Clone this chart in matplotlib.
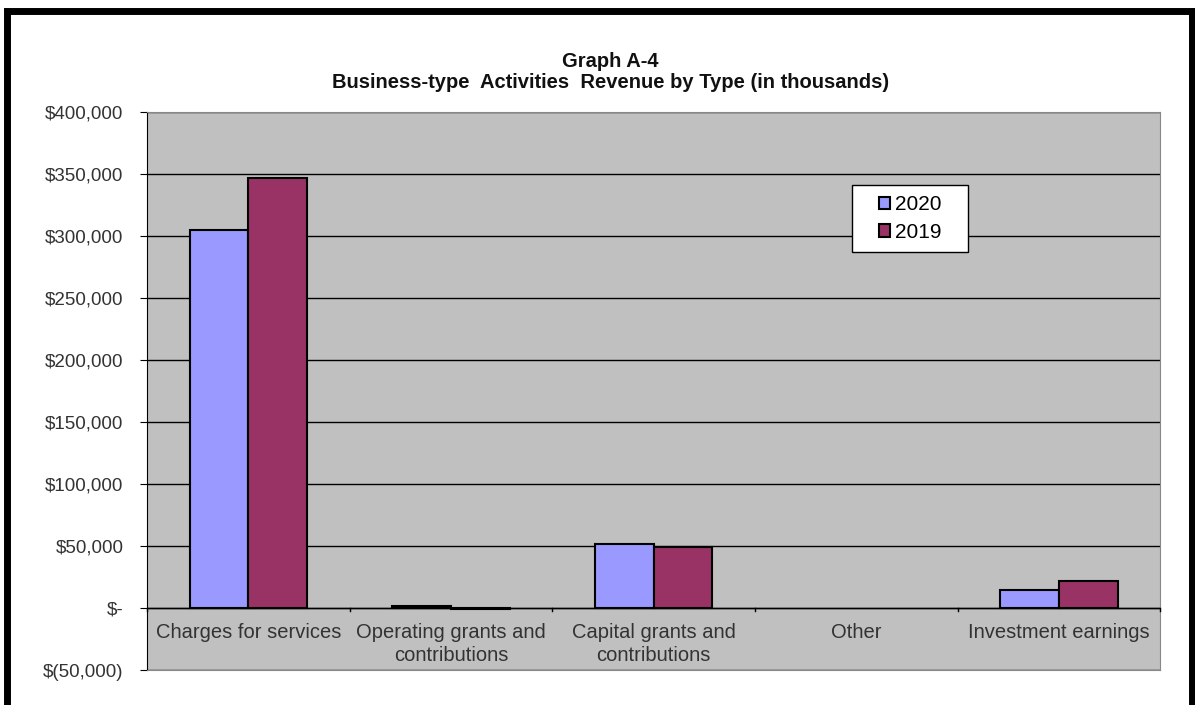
import numpy as np
import matplotlib.pyplot as plt
from matplotlib.patches import Rectangle

plt.rcParams['font.family'] = ['Liberation Sans', 'DejaVu Sans']

categories = ["Charges for services", "Operating grants and\ncontributions",
              "Capital grants and\ncontributions", "Other", "Investment earnings"]
rev_2020 = [305000, 2000, 51500, 0, 14500]
rev_2019 = [346500, -800, 49500, 0, 22000]
yticks = [-50000, 0, 50000, 100000, 150000, 200000, 250000, 300000, 350000, 400000]
ytick_labels = ["$(50,000)", "$-", "$50,000", "$100,000", "$150,000", "$200,000",
                "$250,000", "$300,000", "$350,000", "$400,000"]

fig = plt.figure(figsize=(11.95, 7.05), dpi=100)
ax = fig.add_axes([0.123, 0.0496, 0.848, 0.7914])
ax.set_facecolor("#C0C0C0")

x = np.arange(len(categories))
w = 0.29
# zero-height bars get no outline so the axis line stays thin
lw20 = [1.5 if v != 0 else 0 for v in rev_2020]
lw19 = [1.5 if v != 0 else 0 for v in rev_2019]
ax.bar(x - w / 2, rev_2020, w, color="#9999FF", edgecolor="black", linewidth=lw20,
       label="2020", zorder=3)
ax.bar(x + w / 2, rev_2019, w, color="#993366", edgecolor="black", linewidth=lw19,
       label="2019", zorder=3)

ax.set_xlim(-0.5, len(categories) - 0.5)
ax.set_ylim(-50000, 400000)
ax.set_yticks(yticks)
ax.set_yticklabels(ytick_labels, fontsize=13.5, color="#333333")
ax.yaxis.grid(True, color="black", linewidth=1)
ax.set_axisbelow(True)
ax.tick_params(axis="y", length=5, pad=12)

# category axis sits on zero line
ax.set_xticks([])
ax.axhline(0, color="black", linewidth=1, zorder=4)
for b in np.arange(-0.5, len(categories), 1.0):
    ax.plot([b, b], [0, -2500], color="black", linewidth=1, zorder=4, clip_on=False)
for i, c in enumerate(categories):
    ax.text(i, -12000, c, ha="center", va="top", fontsize=14.5, color="#333333",
            linespacing=1.3, zorder=5)

for s in ["top", "right", "bottom"]:
    ax.spines[s].set_color("#888888")
ax.spines["left"].set_color("black")

fig.text(0.511, 0.898, "Graph A-4\nBusiness-type  Activities  Revenue by Type (in thousands)",
         ha="center", va="center", fontsize=14.5, fontweight="bold", linespacing=1.15,
         color="#111111")

# legend box with a frame drawn by hand for the wide padding
ax.add_patch(Rectangle((0.696, 0.749), 0.1145, 0.120, transform=ax.transAxes,
                       facecolor="white", edgecolor="black", linewidth=1, zorder=6))
leg = ax.legend(loc="center", bbox_to_anchor=(0.753, 0.809), fontsize=15,
                frameon=False, handlelength=0.55, handleheight=0.55,
                handletextpad=0.2, labelspacing=0.4, borderpad=0)
leg.set_zorder(7)

# outer frame of the screenshot
fig.patches.append(Rectangle((0.0055, -0.05), 0.992, 1.034, transform=fig.transFigure,
                             fill=False, edgecolor="black", linewidth=5))

fig.savefig("out.png", dpi=100)
